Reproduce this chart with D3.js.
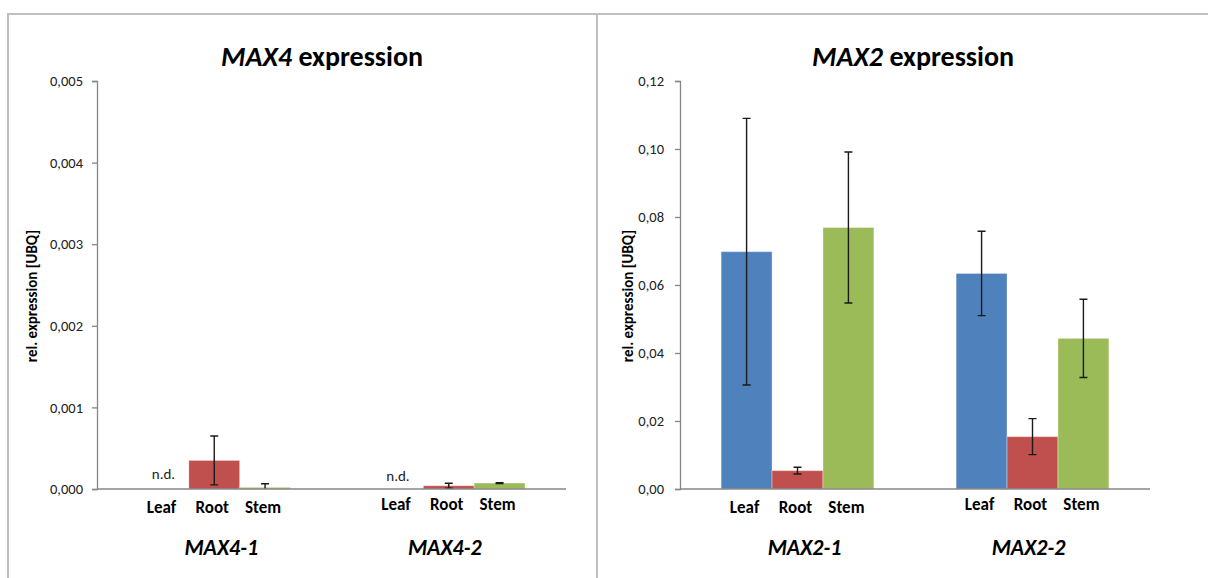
<!DOCTYPE html>
<html>
<head>
<meta charset="utf-8">
<script src="https://cdn.jsdelivr.net/npm/d3@7"></script>
<style type="text/css">
body { margin: 0; background: #fff; }
svg text { font-family: Carlito, Lato, "Open Sans", sans-serif; fill: #000; }
.frame { stroke: #bfbfbf; stroke-width: 2; fill: none; }
.axis path, .axis line { stroke: #868686; stroke-width: 1.3; }
.axis text { font-size: 14.5px; fill: #222; }
.errbar { stroke: #1a1a1a; stroke-width: 1.4; fill: none; }
.tissue { font-size: 17px; font-weight: bold; text-anchor: middle; }
.group { font-size: 22px; font-weight: bold; font-style: italic; text-anchor: middle; }
.title { font-size: 28px; font-weight: bold; text-anchor: middle; }
.ytitle { font-size: 15px; font-weight: bold; text-anchor: middle; }
.nd { font-size: 15px; fill: #222; text-anchor: middle; }
</style>
</head>
<body>
<script>
// tissues shown inside each group, same colours as the Excel default palette
var tissues = ["Leaf", "Root", "Stem"];
var tissueColors = ["#4f81bd", "#c0504d", "#9bbb59"];

// MAX4 panel (null = not detected)
var max4Groups = ["MAX4-1", "MAX4-2"];
var max4Leaf = [null, null];
var max4Root = [0.00035, 0.00004];
var max4Stem = [0.00002, 0.000073];
var max4LeafErr = [0, 0];
var max4RootErr = [0.0003, 0.00003];
var max4StemErr = [0.000045, 0.000005];
var max4Ticks = [0, 0.001, 0.002, 0.003, 0.004, 0.005];

// MAX2 panel
var max2Groups = ["MAX2-1", "MAX2-2"];
var max2Leaf = [0.0698, 0.0634];
var max2Root = [0.0054, 0.0154];
var max2Stem = [0.0769, 0.0443];
var max2LeafErr = [0.0392, 0.0124];
var max2RootErr = [0.001, 0.0053];
var max2StemErr = [0.0222, 0.0115];
var max2Ticks = [0, 0.02, 0.04, 0.06, 0.08, 0.10, 0.12];

var comma = d3.formatLocale({decimal: ",", thousands: ".", grouping: [3], currency: ["", ""]});

var svg = d3.select("body").append("svg")
    .attr("width", 1208)
    .attr("height", 578);

// outer frame of the two pasted charts
svg.append("path").attr("class", "frame").attr("d", "M8,578 V14 H1208");
svg.append("line").attr("class", "frame").attr("x1", 597).attr("x2", 597).attr("y1", 14).attr("y2", 578);

function drawPanel(p) {
  var y = d3.scaleLinear().domain(p.domain).range([489, 81]);

  var x0 = d3.scaleBand().domain(p.groups).range([p.left, p.right])
      .paddingInner(0.35).paddingOuter(0.175);
  var x1 = d3.scaleBand().domain(tissues).range([0, x0.bandwidth()]);

  var g = svg.append("g");

  // title, gene name in italics
  var t = g.append("text").attr("class", "title").attr("x", p.titleX).attr("y", 66);
  t.append("tspan").style("font-style", "italic").text(p.gene);
  t.append("tspan").text(" expression");

  // y axis
  g.append("g").attr("class", "axis")
      .attr("transform", "translate(" + p.left + ",0)")
      .call(d3.axisLeft(y).tickValues(p.ticks).tickSize(5).tickSizeOuter(5).tickPadding(p.tickPad)
        .tickFormat(comma.format(p.fmt)));

  g.append("text").attr("class", "ytitle")
      .attr("transform", "translate(" + p.ytitleX + ",296) rotate(-90)")
      .attr("dy", "0.35em")
      .text("rel. expression [UBQ]");

  // bars
  var rows = [];
  p.groups.forEach(function(grp, i) {
    tissues.forEach(function(ts, j) {
      rows.push({group: grp, gi: i, tissue: ts, ti: j, v: p.values[j][i], e: p.errors[j][i]});
    });
  });

  var bar = g.selectAll(".bar").data(rows.filter(function(d) { return d.v !== null; }))
    .enter().append("g").attr("class", "bar");

  bar.append("rect")
      .attr("x", function(d) { return x0(d.group) + x1(d.tissue); })
      .attr("y", function(d) { return y(d.v); })
      .attr("width", x1.bandwidth())
      .attr("height", function(d) { return y(0) - y(d.v); })
      .attr("fill", function(d) { return tissueColors[d.ti]; })
      .attr("stroke", "rgba(255,255,255,0.35)")
      .attr("stroke-width", 1);

  // error bars
  var eb = bar.filter(function(d) { return d.e > 0; });
  eb.append("path").attr("class", "errbar")
      .attr("d", function(d) {
        var cx = x0(d.group) + x1(d.tissue) + x1.bandwidth() / 2;
        var lo = Math.min(y(d.v - d.e), y(0));
        var hi = y(d.v + d.e);
        return "M" + cx + "," + hi + "V" + lo +
          "M" + (cx - 4) + "," + hi + "H" + (cx + 4) +
          (y(d.v - d.e) <= y(0) ? "M" + (cx - 4) + "," + lo + "H" + (cx + 4) : "");
      });

  // x axis line (no ticks)
  g.append("line").attr("class", "axis-line")
      .attr("x1", p.left).attr("x2", p.right)
      .attr("y1", y(0)).attr("y2", y(0))
      .attr("stroke", "#868686").attr("stroke-width", 1.3);

  // n.d. markers
  g.selectAll(".nd").data(rows.filter(function(d) { return d.v === null; }))
    .enter().append("text").attr("class", "nd")
      .attr("x", function(d) { return x0(d.group) + x1(d.tissue) + x1.bandwidth() / 2; })
      .attr("y", function(d) { return 479 + d.gi * 2; })
      .text("n.d.");

  // tissue labels under each bar
  g.selectAll(".tissue").data(rows)
    .enter().append("text").attr("class", "tissue")
      .attr("x", function(d) { return x0(d.group) + x1(d.tissue) + x1.bandwidth() / 2 - 2; })
      .attr("y", function(d) { return d.gi === 0 ? 513 : 510; })
      .text(function(d) { return d.tissue; });

  // group labels
  g.selectAll(".group").data(p.groups)
    .enter().append("text").attr("class", "group")
      .attr("x", function(d, i) { return x0(d) + x0.bandwidth() / 2 + (i === 0 ? 7 : -4); })
      .attr("y", 555)
      .text(function(d) { return d; });
}

drawPanel({
  gene: "MAX4", titleX: 322, ytitleX: 32, tickPad: 9,
  left: 97, right: 566,
  domain: [0, 0.005], ticks: max4Ticks, fmt: ".3f",
  groups: max4Groups,
  values: [max4Leaf, max4Root, max4Stem],
  errors: [max4LeafErr, max4RootErr, max4StemErr]
});

drawPanel({
  gene: "MAX2", titleX: 913, ytitleX: 628, tickPad: 11,
  left: 680, right: 1150,
  domain: [0, 0.12], ticks: max2Ticks, fmt: ".2f",
  groups: max2Groups,
  values: [max2Leaf, max2Root, max2Stem],
  errors: [max2LeafErr, max2RootErr, max2StemErr]
});
</script>
</body>
</html>
